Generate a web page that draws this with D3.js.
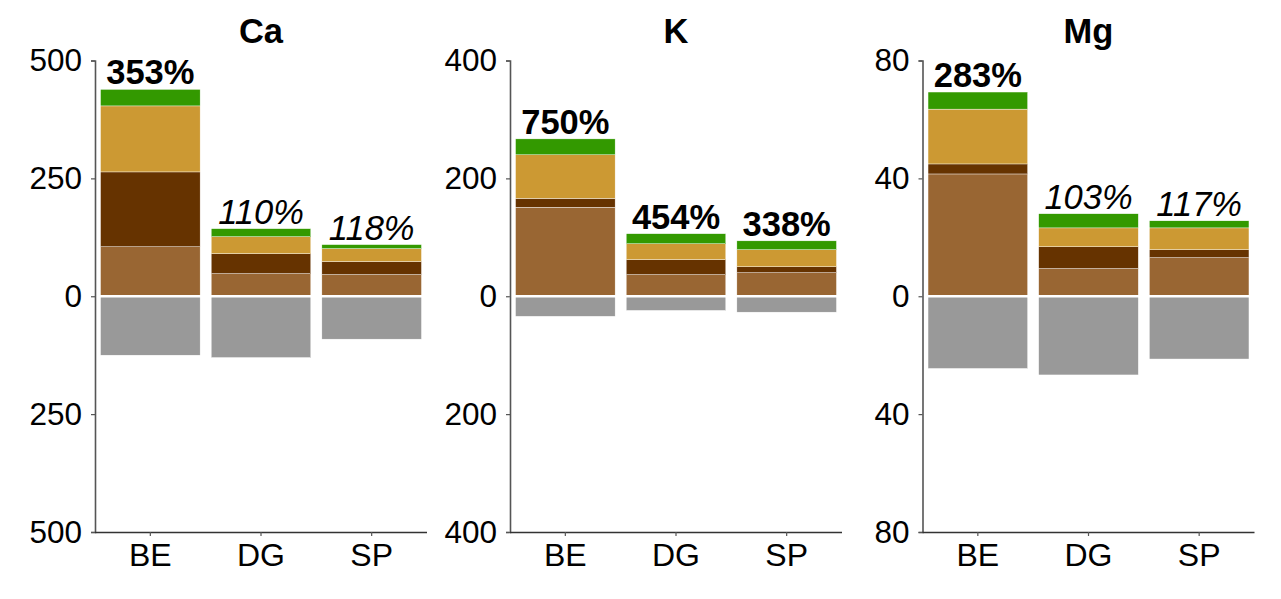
<!DOCTYPE html>
<html>
<head>
<meta charset="utf-8">
<script src="https://cdn.jsdelivr.net/npm/d3@7"></script>
<style>
  html, body { margin: 0; padding: 0; background: #fff; }
  text { font-family: "Liberation Sans", Arial, sans-serif; }
</style>
</head>
<body>
<svg id="chart" width="1281" height="599"></svg>
<script>
// ---- data ----
const elements = ["Ca", "K", "Mg"];
const sites = ["BE", "DG", "SP"];
const axisMax = [500, 400, 80];
const tickValues = [[-500, -250, 0, 250, 500], [-400, -200, 0, 200, 400], [-80, -40, 0, 40, 80]];
// stacked positive components (bottom to top)
const brownPart = [[105, 48, 46], [151, 36.7, 40], [41.5, 9.4, 13.1]];
const darkPart  = [[158.7, 42.3, 27.5], [15, 25.4, 10], [3.4, 7.4, 2.7]];
const goldPart  = [[140, 36, 27.5], [74, 27, 29], [18.6, 6.4, 7.4]];
const greenPart = [[35, 17, 8.5], [27, 17, 15], [5.8, 4.8, 2.4]];
// negative component
const grayPart  = [[125, 130, 91], [34, 24, 27], [24.5, 26.7, 21.3]];
const pctLabels = [["353%", "110%", "118%"], ["750%", "454%", "338%"], ["283%", "103%", "117%"]];
const pctBold   = [[true, false, false], [true, true, true], [true, false, false]];

const partColors = ["#996633", "#663300", "#CC9933", "#339900"];
const grayColor = "#999999";

const svg = d3.select("#chart");
const panelX = [95, 510, 922.5];
const panelW = 332;
const yTop = 60.5, yBot = 532;

elements.forEach((el, i) => {
  const x0 = panelX[i];
  const x = d3.scaleBand().domain(sites).range([x0, x0 + panelW])
    .paddingInner(0.1).paddingOuter(0.05);
  const y = d3.scaleLinear().domain([-axisMax[i], axisMax[i]]).range([yBot, yTop]);
  const g = svg.append("g");

  const parts = [brownPart[i], darkPart[i], goldPart[i], greenPart[i]];
  sites.forEach((s, j) => {
    let base = 0;
    parts.forEach((p, k) => {
      const v = p[j];
      g.append("rect")
        .attr("x", x(s)).attr("width", x.bandwidth())
        .attr("y", y(base + v)).attr("height", y(base) - y(base + v))
        .attr("fill", partColors[k])
        .attr("stroke", "#fff").attr("stroke-width", 0.4);
      base += v;
    });
    g.append("rect")
      .attr("x", x(s)).attr("width", x.bandwidth())
      .attr("y", y(0)).attr("height", y(-grayPart[i][j]) - y(0))
      .attr("fill", grayColor)
      .attr("stroke", "#fff").attr("stroke-width", 0.4);
    g.append("text")
      .attr("x", x(s) + x.bandwidth() / 2)
      .attr("y", y(base) - 5)
      .attr("text-anchor", "middle")
      .attr("font-size", 34.5)
      .attr("font-weight", pctBold[i][j] ? "bold" : "normal")
      .attr("font-style", pctBold[i][j] ? "normal" : "italic")
      .attr("fill", "#000")
      .text(pctLabels[i][j]);
  });

  // white zero line
  g.append("line")
    .attr("x1", x0 + 1).attr("x2", x0 + panelW)
    .attr("y1", y(0)).attr("y2", y(0))
    .attr("stroke", "#fff").attr("stroke-width", 2.5);

  // y axis
  const yAxis = d3.axisLeft(y).tickValues(tickValues[i])
    .tickFormat(d => Math.abs(d)).tickSize(4).tickPadding(9);
  const ya = g.append("g").attr("transform", `translate(${x0},0)`).call(yAxis);
  ya.select(".domain").attr("stroke", "#555").attr("stroke-width", 1.6);
  ya.selectAll(".tick line").attr("stroke", "#555").attr("stroke-width", 1.2);
  ya.selectAll("text").attr("font-size", 31.5).attr("fill", "#000")
    .attr("font-family", "Liberation Sans, Arial, sans-serif");

  // x axis
  const xAxis = d3.axisBottom(x).tickSize(4).tickPadding(7);
  const xa = g.append("g").attr("transform", `translate(0,${yBot})`).call(xAxis);
  xa.select(".domain").attr("stroke", "#333").attr("stroke-width", 1.6)
    .attr("d", `M${x0},0.5H${x0 + panelW}`);
  xa.selectAll(".tick line").attr("stroke", "#555").attr("stroke-width", 1.2);
  xa.selectAll("text").attr("font-size", 32).attr("fill", "#000")
    .attr("font-family", "Liberation Sans, Arial, sans-serif");

  // title
  g.append("text")
    .attr("x", x0 + panelW / 2).attr("y", 43)
    .attr("text-anchor", "middle")
    .attr("font-size", 34.5).attr("font-weight", "bold")
    .text(el);
});
</script>
</body>
</html>
